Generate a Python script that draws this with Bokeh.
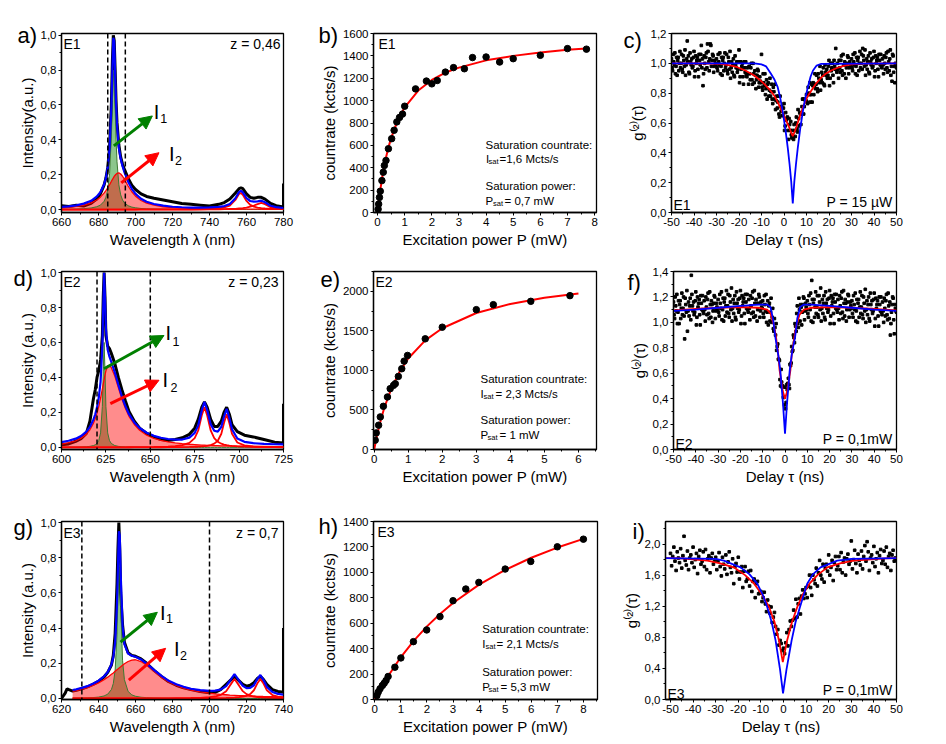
import numpy as np
from bokeh.plotting import figure
from bokeh.layouts import column, row
from bokeh.models import Label, Arrow, NormalHead, Span, FixedTicker, CustomJSTickFormatter, Range1d
from bokeh.embed import file_html
from bokeh.resources import INLINE

nan = float("nan")
FONT = "Liberation Sans"
BLUE = "#0000ff"
RED = "#ff0000"
GREEN = "#008000"

# ---------------- spectra (a, d, g) ----------------
wl_a = [660,664,668,672,676,679,681,683,684,685,686,687,687.5,688,688.5,689,689.5,690,691,692,693,694,696,698,700,
        703,706,710,715,720,725,730,735,740,745,748,751,754,756,757,758,760,762,764,766,768,770,773,776,780]
meas_wl_a = wl_a + [780]
meas_a = [0.022,0.018,0.025,0.020,0.035,0.060,0.090,0.140,0.180,0.240,0.360,0.620,0.850,1.000,0.970,0.800,0.620,0.500,0.370,0.300,
          0.260,0.230,0.180,0.140,0.115,0.090,0.075,0.065,0.055,0.045,0.035,0.030,0.025,0.020,0.030,0.040,0.060,0.095,0.120,0.125,
          0.120,0.090,0.070,0.065,0.070,0.070,0.060,0.035,0.022,0.015,0.15]
fit_a = [0.015,0.018,0.024,0.034,0.050,0.074,0.099,0.144,0.181,0.241,0.353,0.597,0.800,0.985,0.965,0.780,0.606,0.484,0.355,0.291,
         0.249,0.215,0.160,0.119,0.090,0.062,0.045,0.032,0.022,0.016,0.013,0.011,0.011,0.012,0.015,0.020,0.032,0.065,0.101,0.107,
         0.098,0.065,0.049,0.045,0.047,0.051,0.042,0.022,0.014,0.009]
i1_a = [0.002,0.002,0.003,0.005,0.009,0.016,0.025,0.047,0.070,0.113,0.207,0.432,0.620,0.800,0.775,0.580,0.400,0.274,0.142,0.084,
        0.055,0.038,0.022,0.014,0.010,0.006,0.004,0.003,0.002,0.001] + [0]*20
i2_a = [0.010,0.013,0.018,0.026,0.038,0.055,0.071,0.094,0.108,0.125,0.143,0.162,0.172,0.181,0.190,0.197,0.203,0.207,0.210,0.204,
        0.191,0.174,0.135,0.102,0.077,0.052,0.037,0.025,0.016,0.011,0.008,0.0065,0.005,0.004,0.0034,0.003,0.0028,0.0025,0.0024,0.0023,
        0.0023,0.0022,0.002,0.002,0.0019,0.0018,0.0017,0.0016,0.0015,0.0014]
p3_a = [0]*25 + [0.001,0.001,0.001,0.001,0.001,0.001,0.0015,0.002,
                 0.0035,0.007,0.012,0.023,0.055,0.090,0.095,0.085,0.049,0.027,0.017,0.011,0.008,0.006,0.004,0.003,0.002]
p4_a = [0]*33 + [0.001,0.0015,0.002,0.003,0.004,0.006,0.007,0.008,0.011,0.017,0.023,0.031,0.038,0.031,0.013,0.006,0.003]
cuts_a = [685, 694.5]

wl_d = [600,604,608,611,614,616,618,619,620,621,622,623,623.5,624,624.5,625,626,627,628,630,632,634,636,638,641,644,648,652,
        656,660,664,668,672,675,677,679,680.5,682,684,686,688,690,691.5,693,694.5,696,699,703,708,714,720,725]
meas_wl_d = wl_d + [725]
meas_d = [0.015,0.020,0.035,0.050,0.080,0.150,0.280,0.330,0.400,0.440,0.500,0.640,0.860,1.000,0.860,0.640,0.580,0.565,0.540,0.480,
          0.400,0.330,0.265,0.205,0.150,0.110,0.080,0.060,0.045,0.040,0.045,0.055,0.075,0.110,0.160,0.230,0.260,0.230,0.160,0.120,
          0.120,0.150,0.200,0.230,0.190,0.130,0.090,0.070,0.060,0.045,0.030,0.025,0.25]
fit_d = [0.030,0.038,0.050,0.065,0.090,0.117,0.160,0.189,0.229,0.285,0.375,0.579,0.804,0.999,0.857,0.682,0.559,0.519,0.490,0.429,
         0.358,0.291,0.235,0.190,0.143,0.111,0.084,0.066,0.055,0.048,0.045,0.045,0.056,0.083,0.126,0.213,0.260,0.215,0.132,0.095,
         0.090,0.118,0.175,0.221,0.168,0.104,0.051,0.032,0.024,0.020,0.018,0.017]
i1_d = [0.0007,0.001,0.0015,0.0023,0.0038,0.006,0.0105,0.015,0.023,0.040,0.083,0.234,0.432,0.600,0.432,0.234,0.083,0.040,0.023,0.0105,
        0.006,0.0038,0.0027,0.002,0.0013,0.001,0.0008,0.0005,0.0004] + [0]*23
i2_d = [0.019,0.027,0.038,0.053,0.076,0.101,0.139,0.164,0.196,0.235,0.282,0.335,0.362,0.389,0.415,0.438,0.466,0.469,0.457,0.408,
        0.342,0.277,0.222,0.178,0.131,0.098,0.070,0.052,0.040,0.032,0.026,0.021,0.018,0.016,0.0145,0.013,0.0127,0.012,0.0112,0.0105,
        0.0099,0.0093,0.009,0.0087,0.0084,0.008,0.0075,0.0069,0.0062,0.0055,0.0049,0.0045]
p3_d = [0]*23 + [0.001,0.0013,0.0015,0.002,0.0025,0.0034,0.0048,0.0074,0.0125,0.0255,0.053,0.097,0.184,0.230,0.184,0.097,0.053,
                 0.032,0.021,0.016,0.0125,0.010,0.0083,0.0059,0.004,0.0027,0.0018,0.0013,0.001]
p4_d = [0]*29 + [0.0011,0.0014,0.0019,0.0027,0.0036,0.0045,0.0059,0.0073,0.0093,0.0136,0.0215,0.038,0.078,0.140,0.190,0.140,0.078,
                 0.028,0.0112,0.0051,0.0027,0.0016,0.0012]
cuts_d = [620, 650]

wl_g = [620,622,623,624,626,628,631,634,637,640,643,645,647,648,649,650,650.5,651,651.5,652,653,654,656,658,660,663,666,670,674,
        678,682,686,690,695,700,703,706,709,711,713.5,716,718,720,722,724,726,727.5,729,731,734,737,740]
meas_wl_g = wl_g + [740]
meas_g = [0.0,0.030,0.055,0.050,0.042,0.046,0.055,0.066,0.080,0.097,0.122,0.148,0.190,0.245,0.370,0.650,0.850,1.000,0.850,0.600,
          0.420,0.320,0.260,0.245,0.240,0.225,0.200,0.160,0.125,0.095,0.075,0.060,0.050,0.040,0.032,0.035,0.050,0.080,0.100,0.125,
          0.100,0.080,0.070,0.075,0.090,0.115,0.125,0.110,0.080,0.050,0.040,0.035,0.40]
fit_g = [nan]*4 + [0.048,0.052,0.060,0.070,0.084,0.101,0.126,0.150,0.193,0.235,0.319,0.533,0.741,0.951,0.926,0.708,0.411,0.309,
                   0.255,0.243,0.237,0.222,0.198,0.162,0.128,0.100,0.081,0.066,0.055,0.047,0.043,0.044,0.050,0.070,0.100,0.138,
                   0.101,0.072,0.059,0.060,0.075,0.113,0.133,0.109,0.066,0.037,0.026,0.021]
i1_g = [nan]*4 + [0.0015,0.0018,0.0024,0.0033,0.0048,0.0076,0.0141,0.0244,0.051,0.085,0.160,0.365,0.569,0.774,0.745,0.523,0.217,
                  0.107,0.040,0.0204,0.0123,0.0069,0.0044,0.0027,0.0019,0.0014,0.001] + [0]*21
i2_g = [nan]*4 + [0.041,0.045,0.053,0.062,0.074,0.0885,0.107,0.121,0.137,0.145,0.154,0.163,0.167,0.172,0.176,0.180,0.189,0.197,
                  0.210,0.218,0.220,0.210,0.189,0.154,0.121,0.094,0.074,0.059,0.0475,0.037,0.0297,0.026,0.023,0.021,0.019,0.018,
                  0.016,0.0153,0.0144,0.0135,0.0128,0.012,0.0115,0.011,0.0105,0.0097,0.009,0.0085]
p3_g = [nan]*4 + [0]*26 + [0.0014,0.0018,0.0024,0.0038,0.0069,0.011,0.0197,0.0415,0.0728,0.110,0.0728,0.0415,0.0247,0.0159,
                           0.011,0.008,0.0065,0.0053,0.0042,0.0031,0.0024,0.0019]
p4_g = [nan]*4 + [0]*29 + [0.001,0.0013,0.0016,0.0021,0.0028,0.0035,0.0048,0.007,0.010,0.0152,0.0252,0.0466,0.088,0.110,0.088,
                           0.0466,0.0193,0.010,0.006]
cuts_g = [631, 700]

# ---------------- saturation (b, e, h) ----------------
pw_b = [0.02,0.04,0.07,0.1,0.16,0.21,0.25,0.31,0.4,0.52,0.61,0.71,0.81,0.92,1.0,1.4,1.8,2.0,2.2,2.5,2.8,3.2,3.5,4.0,4.5,5.0,6.0,7.0,7.7]
cr_b = [30,75,135,190,285,360,420,465,570,660,735,810,850,880,950,1105,1175,1150,1180,1255,1295,1285,1385,1390,1345,1375,1405,1465,1460]
fitp_b = [0,0.05,0.1,0.15,0.2,0.3,0.4,0.5,0.75,1,1.5,2,2.5,3,4,5,6,7,7.7]
fitc_b = [0,107,200,282,355,480,582,665,830,940,1090,1185,1250,1295,1360,1400,1430,1455,1465]

pw_e = [0.03,0.06,0.13,0.18,0.27,0.39,0.47,0.57,0.62,0.71,0.81,0.88,0.98,1.5,2.0,3.0,3.5,4.6,5.75]
cr_e = [118,210,307,412,546,664,769,811,832,924,1021,1117,1189,1399,1546,1768,1831,1873,1945]
fitp_e = [0,0.05,0.1,0.2,0.3,0.5,0.75,1,1.5,2,3,4,5,6]
fitc_e = [0,110,210,383,531,767,986,1150,1380,1533,1725,1840,1917,1971]

pw_h = [0.08,0.13,0.2,0.29,0.36,0.43,0.51,0.77,1.0,1.48,1.99,2.5,3.0,3.49,3.99,5.0,5.98,7.0,8.0]
cr_h = [31,58,84,110,128,149,181,254,327,455,547,652,777,869,921,1026,1086,1201,1261]
fitp_h = [0,0.5,1,1.5,2,2.5,3,4,5,6,7,8]
fitc_h = [0,181,334,463,575,673,759,903,1019,1115,1195,1263]

# ---------------- g2 correlation (c, f, i) ----------------
g2c_a = [1.03,0.95,1.01,1.07,0.98,0.92,1.04,1.00,0.97,1.06, 0.94,1.02,1.09,0.99,1.15,1.05,0.93,1.01,1.03,0.98,
         1.08,0.95,1.00,1.04,0.91,1.02,1.06,0.97,0.85,1.05, 0.96,1.07,1.13,1.01,1.03,1.12,1.02,1.05,0.98,1.00,
         1.03,0.95,1.01,1.07,0.98,0.92,1.04,1.00,0.97,1.06, 0.93,1.01,1.08,0.97,0.94,1.03,0.91,0.99,1.01,0.96,
         1.09,0.91,0.96,1.00,0.86,0.97,1.01,0.91,0.93,0.98, 0.89,1.00,0.86,0.93,0.95,0.83,0.92,0.95,0.87,0.88,
         1.06,0.82,0.87,0.93,0.83,0.76,0.87,0.82,0.78,0.86, 0.73,0.81,0.86,0.75,0.70,0.78,0.64,0.71,0.71,0.65,
         0.73,0.58,0.62,0.64,0.49,0.59,0.61,0.50,0.51,0.59, 0.51,0.64,0.54,0.63,0.67,0.59,0.71,0.76,0.71,0.75,
         0.79,0.73,0.80,0.87,0.79,0.74,0.87,0.85,0.83,0.92, 0.81,0.90,0.98,0.89,0.87,0.97,0.85,0.94,0.96,0.92,
         1.02,0.90,0.95,1.00,0.87,0.98,1.10,0.94,0.96,1.02, 0.94,1.05,0.92,0.99,1.01,0.90,1.00,1.04,0.97,0.99,
         1.03,0.95,1.01,1.07,0.98,0.92,1.04,1.00,0.97,1.06, 1.10,1.02,1.09,0.99,0.96,1.05,0.93,1.01,1.03,0.98,
         1.08,0.95,1.00,1.04,0.91,1.02,1.06,0.97,0.99,1.05, 0.96,1.07,0.94,1.01,1.03,0.92,0.88,1.05,0.98,1.00, 0.97]
g2c_b = [0.97,1.06,0.99,0.93,1.04,1.02,0.95,1.08,1.00,0.96, 1.05,0.98,0.92,1.03,1.01,0.94,1.07,0.99,0.97,1.04,
         0.91,1.05,1.02,0.96,1.06,0.99,1.12,1.03,0.93,1.00, 1.04,0.97,1.08,0.95,1.13,0.98,1.06,0.94,1.02,0.99,
         0.97,1.06,0.99,0.93,1.04,1.02,0.95,1.07,0.99,0.95, 1.04,0.96,0.90,1.01,0.99,0.92,1.05,0.97,0.94,1.01,
         0.87,1.01,0.98,0.91,1.01,0.94,0.92,0.97,0.86,0.93, 0.97,0.89,1.00,0.87,0.92,0.89,0.96,0.84,0.91,0.87,
         0.84,0.93,0.85,0.79,0.89,0.86,0.78,0.90,0.81,0.76, 0.84,0.76,0.69,0.78,0.74,0.66,0.78,0.68,0.65,0.70,
         0.55,0.67,0.63,0.55,0.63,0.55,0.52,0.55,0.49,0.55, 0.60,0.56,0.69,0.58,0.66,0.66,0.76,0.66,0.76,0.75,
         0.74,0.84,0.79,0.74,0.86,0.85,0.79,0.93,0.86,0.83, 0.93,0.87,0.82,0.94,0.92,0.86,0.99,0.92,0.90,0.98,
         0.85,1.00,0.97,0.92,1.02,0.96,0.96,1.00,0.90,0.97, 1.02,0.95,1.06,0.93,0.99,0.97,1.05,0.93,1.01,0.98,
         0.97,1.06,0.99,0.93,1.04,1.02,0.95,1.08,1.00,0.96, 1.05,0.98,0.92,1.03,1.01,0.94,1.07,0.99,0.97,1.04,
         0.91,1.05,1.02,0.96,1.06,0.99,0.98,1.03,0.93,1.00, 1.04,0.97,1.08,0.95,1.09,0.98,1.06,0.94,0.87,0.99]
redt_c = [-50,-35,-28,-24,-20.7,-17,-13.2,-11,-8.8,-6.5,-4.3,-2.5,-0.6,1,2.4,3.2,3.9,4.6,5.4,6.5,7.6,8.8,9.9,11,12.1,14,16.6,18.5,21,24,27,30,35,50]
redg_c = [1.0,0.999,0.997,0.987,0.974,0.95,0.918,0.892,0.862,0.826,0.783,0.73,0.67,0.615,0.568,0.535,0.512,0.535,0.568,0.62,
          0.67,0.72,0.76,0.79,0.816,0.86,0.906,0.93,0.952,0.972,0.985,0.993,0.998,1.0]
bluet_c = [-50,-13.2,-10,-8,-5.8,-4.2,-2.8,-1.7,-0.6,0.6,1.7,2.5,3.2,3.9,4.6,5.3,6.1,7.2,8.4,9.5,10.6,11.8,12.9,14.5,16.6,50]
blueg_c = [1.0,1.0,0.993,0.98,0.93,0.89,0.84,0.77,0.68,0.56,0.43,0.32,0.21,0.06,0.21,0.32,0.43,0.56,0.68,0.77,0.84,0.91,0.952,0.985,0.997,1.0]

g2f_a = [1.16,1.03,1.13,1.22,1.08,0.99,1.17,1.11,1.06,1.20, 0.87,1.14,1.25,1.09,1.05,1.19,1.37,1.13,1.16,1.08,
         1.24,1.04,1.12,1.18,0.98,1.15,1.21,1.07,1.10,1.20, 1.06,1.23,1.03,1.14,1.17,1.00,1.15,1.20,1.09,1.12,
         1.18,1.05,1.15,1.24,1.10,1.01,1.19,1.13,1.08,1.22, 1.04,1.16,1.27,1.11,1.07,1.21,1.02,1.15,1.18,1.10,
         1.25,1.05,1.13,1.19,0.99,1.16,1.22,1.08,1.11,1.21, 1.07,1.24,1.04,1.15,1.18,1.01,1.15,1.20,1.09,1.12,
         1.17,1.04,1.14,1.22,1.08,0.98,1.15,1.08,1.00,1.11, 0.93,0.96,0.99,0.81,0.71,0.70,0.50,0.53,0.50,0.41,
         0.49,0.37,0.47,0.56,0.48,0.66,0.81,0.78,0.88,0.99, 0.93,1.13,0.96,1.10,1.14,0.98,1.14,1.19,1.09,1.12,
         1.17,1.04,1.14,1.23,1.33,1.00,1.18,1.12,1.07,1.21, 1.04,1.16,1.27,1.11,1.07,1.21,1.02,1.15,1.18,1.10,
         1.25,1.05,1.13,1.19,0.99,1.16,1.22,1.08,1.11,1.21, 1.07,1.24,1.03,1.15,1.18,1.01,1.16,1.21,1.10,1.13,
         1.17,1.04,1.14,1.23,1.09,1.00,1.18,1.12,1.07,1.21, 1.03,1.15,1.26,1.10,1.06,1.20,1.01,1.14,1.17,1.09,
         1.23,1.03,1.11,1.17,0.97,1.14,1.20,1.06,1.09,1.19, 1.05,1.22,1.02,1.13,1.16,0.99,1.14,1.19,0.91,1.11, 1.08]
g2f_b = [1.06,1.20,1.09,0.99,1.17,1.14,1.03,1.23,1.11,1.05, 1.19,1.08,0.93,1.16,1.13,1.02,1.22,1.09,1.06,1.17,
         0.98,1.20,1.15,1.06,1.21,1.10,1.09,1.17,1.01,1.12, 1.18,1.07,1.24,1.04,1.14,1.09,1.21,1.03,1.15,1.10,
         1.08,1.22,1.11,1.02,1.19,1.16,1.05,1.25,1.13,1.07, 1.21,1.10,1.01,1.18,1.15,1.04,1.24,1.11,1.08,1.19,
         0.99,1.21,1.16,1.07,1.22,1.11,1.10,1.18,1.02,1.13, 1.19,1.08,1.25,1.05,1.15,1.10,1.22,1.04,1.16,1.11,
         1.07,1.21,1.09,1.00,1.17,1.13,1.01,1.19,1.04,0.95, 1.03,0.90,0.78,0.83,0.71,0.55,0.63,0.49,0.41,0.35,
         0.32,0.51,0.52,0.51,0.67,0.68,0.77,0.90,0.84,0.97, 1.07,0.99,1.19,1.01,1.12,1.08,1.20,1.02,1.15,1.10,
         1.07,1.21,1.10,1.01,1.18,1.15,1.04,1.24,1.12,1.06, 1.21,1.10,1.01,1.18,1.15,1.04,1.24,1.11,1.08,1.19,
         0.99,1.21,1.16,1.07,1.22,1.11,1.10,1.18,1.02,1.13, 1.19,1.08,1.25,1.05,1.15,1.10,1.22,1.04,1.16,1.11,
         1.07,1.21,1.10,1.01,1.18,1.15,1.04,1.24,1.12,1.06, 1.20,1.09,1.00,1.17,1.14,1.03,1.23,1.10,1.07,1.18,
         0.97,1.19,1.14,1.05,1.20,1.09,1.08,1.16,1.00,1.11, 1.17,1.06,1.23,1.03,0.90,1.08,1.20,1.02,1.14,1.09]
redt_f = [-50,-40,-30,-20,-12,-8,-6.5,-5,-4,-3,-2.4,-1,0,1,2.4,3,4,5,6.5,8.5,12,20,30,40,50]
redg_f = [1.095,1.105,1.115,1.12,1.115,1.10,1.07,0.98,0.88,0.74,0.62,0.46,0.40,0.46,0.62,0.74,0.86,0.97,1.06,1.10,1.115,1.12,1.115,1.105,1.095]
bluet_f = [-50,-40,-30,-20,-12,-8,-6.5,-5.3,-4.3,-3,-2.1,-0.9,0,0.9,2.1,3.2,4.5,5.5,6.8,8.5,12,20,30,40,50]
blueg_f = [1.09,1.10,1.115,1.13,1.14,1.14,1.12,1.02,0.88,0.74,0.62,0.36,0.125,0.36,0.62,0.77,0.88,1.03,1.12,1.14,1.14,1.13,1.115,1.10,1.09]

g2i = [1.88,1.72,1.84,1.96,1.78,1.66,1.90,1.82,1.76,1.94, 1.69,1.85,2.10,1.79,1.73,1.91,1.67,1.82,1.86,1.76,
       1.96,1.70,1.80,1.88,1.62,1.84,1.92,1.74,1.78,1.90, 1.71,1.93,1.67,1.81,1.85,1.63,1.82,1.88,1.74,1.78,
       1.83,1.67,1.78,1.89,1.71,1.59,1.83,1.74,1.68,1.86, 1.61,1.77,1.90,1.70,1.63,1.81,1.49,1.71,1.75,1.64,
       1.83,1.55,1.64,1.71,1.44,1.65,1.71,1.52,1.55,1.65, 1.46,1.66,1.39,1.52,1.55,1.31,1.49,1.52,1.36,1.37,
       1.39,1.26,1.31,1.38,1.23,1.13,1.28,1.20,1.11,1.19, 0.99,1.06,1.12,0.94,0.84,0.90,0.70,0.76,0.72,0.63,
       0.66,0.59,0.73,0.86,0.69,0.90,1.01,0.94,1.02,1.15, 1.04,1.29,1.06,1.23,1.30,1.10,1.33,1.41,1.30,1.36,
       1.44,1.31,1.46,1.60,1.44,1.34,1.60,1.54,1.49,1.69, 1.46,1.63,1.79,1.60,1.55,1.74,1.51,1.69,1.74,1.65,
       1.86,1.60,1.70,1.79,1.53,1.76,1.84,1.67,1.72,1.84, 1.67,1.89,1.63,1.77,1.82,1.60,1.81,1.87,1.74,1.78,
       2.04,1.68,1.80,1.92,1.75,1.63,1.87,1.79,1.73,1.91, 1.68,1.84,1.98,1.78,2.03,1.90,1.66,1.82,1.86,1.76,
       1.97,1.71,1.81,1.89,1.63,1.85,1.93,1.75,1.79,1.91, 1.74,1.96,1.70,1.84,1.88,1.66,1.86,1.92,1.78,1.82, 1.80]
redt_i = [-52.2,-45,-33.7,-28,-22,-17,-13,-9.5,-6.4,-4,-2,-0.3,1.6,3.8,6.1,8.5,11.5,15,19.4,25,31,45,50]
redg_i = [1.82,1.815,1.786,1.75,1.70,1.60,1.49,1.35,1.19,1.0,0.76,0.48,0.76,1.0,1.19,1.35,1.49,1.60,1.70,1.75,1.786,1.815,1.82]
bluet_i = [-52.2,-30,-26.4,-19,-15,-11.6,-9.2,-7.2,-5.2,-3.5,-1.5,-0.2,1.3,3.6,5.3,7.3,9,10.5,13,16.4,23.8,30,50]
blueg_i = [1.82,1.81,1.786,1.70,1.61,1.49,1.35,1.19,0.99,0.76,0.38,0.08,0.38,0.76,0.99,1.19,1.35,1.49,1.61,1.70,1.786,1.81,1.82]

# time bins of the correlation histograms (ns)
tau_a = np.arange(201) * 0.5 - 50.0
tau_b = np.arange(200) * 0.5 - 49.75

# ---------------- helpers ----------------
COMMA = "return tick.toFixed(1).replace('.', ',');"
INT = "return tick.toFixed(0);"
LIFT = 4  # px; compensates the svg text baseline


def make(xr, yr, fw, fh, bl, br, bt, bb, xt, xm, yt, ym, xl, yl, letter, ldx, ldy, comma=True):
    p = figure(x_range=Range1d(*xr), y_range=Range1d(*yr), frame_width=fw, frame_height=fh,
               min_border_left=bl, min_border_right=br, min_border_top=bt, min_border_bottom=bb,
               output_backend="svg", toolbar_location=None)
    p.xgrid.visible = False
    p.ygrid.visible = False
    p.outline_line_color = "black"
    p.outline_line_width = 1.3
    p.outline_line_alpha = 1.0
    p.xaxis.ticker = FixedTicker(ticks=xt, minor_ticks=xm)
    p.yaxis.ticker = FixedTicker(ticks=yt, minor_ticks=ym)
    for ax in (p.xaxis[0], p.yaxis[0]):
        ax.axis_line_width = 1.3
        ax.major_tick_in = 0
        ax.major_tick_out = 3
        ax.minor_tick_in = 0
        ax.minor_tick_out = 2
        ax.major_label_text_font = FONT
        ax.major_label_text_font_size = "11.5px"
        ax.major_label_text_color = "black"
        ax.axis_label_text_font = FONT
        ax.axis_label_text_font_size = "15px"
        ax.axis_label_text_font_style = "normal"
        ax.axis_label_text_color = "black"
        ax.major_label_standoff = 2
        ax.axis_label_standoff = 2
    p.xaxis.axis_label = xl
    p.yaxis.axis_label = yl
    p.xaxis.formatter = CustomJSTickFormatter(code=INT)
    if comma:
        p.yaxis.formatter = CustomJSTickFormatter(code=COMMA)
    # panel letter, set as the (left-aligned) title, pulled down next to the y axis
    p.title.text = letter
    p.title.align = "left"
    p.title.vertical_align = "bottom"
    p.title.offset = ldx
    p.title.standoff = -2 * (ldy + 10.3)
    p.title.text_font = FONT
    p.title.text_font_size = "22px"
    p.title.text_font_style = "normal"
    p.title.text_color = "black"
    return p


def txt(p, x, y, text, size="14px", align="left", baseline="alphabetic", units="screen", xo=0, yo=0):
    p.add_layout(Label(x=x, y=y, x_units=units, y_units=units, text=text, text_font=FONT,
                       text_font_size=size, text_align=align, text_baseline=baseline,
                       x_offset=xo, y_offset=yo + LIFT, text_color="black"))


def spectrum(p, wl, mwl, meas, fit, i1, i2, peaks, cuts):
    wl = np.array(wl, dtype=float)
    i1 = np.array(i1, dtype=float)
    i2 = np.array(i2, dtype=float)
    ok = np.isfinite(i2)
    p.line(mwl, meas, color="black", line_width=3)
    p.varea(x=wl[ok], y1=0, y2=i1[ok], fill_color=GREEN, fill_alpha=0.45)
    p.varea(x=wl[ok], y1=0, y2=i2[ok], fill_color=RED, fill_alpha=0.45)
    p.line(wl, i1, color="#3c7a30", line_width=1)
    p.line(wl, i2, color=RED, line_width=1.3)
    for pk in peaks:
        p.line(wl, pk, color=RED, line_width=1.8)
    p.line(wl, fit, color=BLUE, line_width=2.2)
    for c in cuts:
        p.add_layout(Span(location=c, dimension="height", line_color="black", line_dash="5 3", line_width=1.5))


def arrow(p, x0, y0, x1, y1, color):
    p.add_layout(Arrow(end=NormalHead(size=13, fill_color=color, line_color=color),
                       x_start=x0, y_start=y0, x_end=x1, y_end=y1, line_color=color, line_width=3))


def sub_label(p, x, y, main, sub, dx, dy):
    txt(p, x, y, main, size="20px", units="data")
    txt(p, x, y, sub, size="12.5px", units="data", xo=dx, yo=dy)


def g2(p, ya, yb, rt, rg, bt_, bg):
    p.scatter(tau_a, ya, marker="square", size=2.6, color="black")
    if yb is not None:
        p.scatter(tau_b, yb, marker="square", size=2.6, color="black")
    p.line(rt, rg, color=RED, line_width=1.8)
    p.line(bt_, bg, color=BLUE, line_width=1.8)


def sat(p, px, py, fx, fy):
    p.line(fx, fy, color=RED, line_width=2)
    p.scatter(px, py, marker="circle", size=6.5, color="black")


WL = "Wavelength \u03bb (nm)"
EX = "Excitation power P (mW)"
DL = "Delay \u03c4 (ns)"
CR = "countrate (kcts/s)"
G2 = "g\u207d\u00b2\u207e(\u03c4)"

# ---------------- row 1 ----------------
pa = make((660, 780), (-0.017, 1.01), 222, 179, 61, 17, 33, 40,
          list(range(660, 781, 20)), list(range(670, 780, 20)),
          [0, 0.2, 0.4, 0.6, 0.8, 1.0], [0.1, 0.3, 0.5, 0.7, 0.9], WL, "Intensity(a.u.)", "a)", -44, 4)
spectrum(pa, wl_a, meas_wl_a, meas_a, fit_a, i1_a, i2_a, [p3_a, p4_a], cuts_a)
arrow(pa, 688.3, 0.365, 709.1, 0.537, GREEN)
arrow(pa, 692.3, 0.153, 712.7, 0.326, RED)
sub_label(pa, 709.8, 0.537, "I", "1", 6.5, -7)
sub_label(pa, 718.1, 0.297, "I", "2", 6, -7)
txt(pa, 2, 165, "E1")
txt(pa, 219, 165, "z = 0,46", align="right")

pb = make((-0.15, 8.07), (0, 1600), 223, 179, 73, 14, 33, 40,
          list(range(0, 9)), [0.5 + k for k in range(8)],
          list(range(0, 1601, 200)), list(range(100, 1600, 200)), EX, CR, "b)", -55, 4, comma=False)
sat(pb, pw_b, cr_b, fitp_b, fitc_b)
txt(pb, 5, 165, "E1")
txt(pb, 112, 64, "Saturation countrate:", size="11.5px")
txt(pb, 112.5, 50, "I", size="11.5px")
txt(pb, 115, 47, "sat", size="7.5px")
txt(pb, 126, 50, "=1,6 Mcts/s", size="11.5px")
txt(pb, 112, 23, "Saturation power:", size="11.5px")
txt(pb, 112, 8, "P", size="11.5px")
txt(pb, 119.5, 5, "sat", size="7.5px")
txt(pb, 131, 8, "= 0,7 mW", size="11.5px")

pc = make((-50, 50), (0, 1.2), 225, 179, 61, 50, 33, 40,
          list(range(-50, 51, 10)), list(range(-45, 50, 10)),
          [0, 0.2, 0.4, 0.6, 0.8, 1.0, 1.2], [0.1, 0.3, 0.5, 0.7, 0.9, 1.1], DL, G2, "c)", -48, 9)
g2(pc, g2c_a, g2c_b, redt_c, redg_c, bluet_c, blueg_c)
txt(pc, 2, 4, "E1")
txt(pc, 221, 7, "P = 15 \u00b5W", align="right")

# ---------------- row 2 ----------------
pd = make((600, 725), (-0.012, 1.006), 222, 178, 61, 17, 19, 43,
          list(range(600, 726, 25)), [612.5 + 25 * k for k in range(5)],
          [0, 0.2, 0.4, 0.6, 0.8, 1.0], [0.1, 0.3, 0.5, 0.7, 0.9], WL, "Intensity (a.u.)", "d)", -48, 9)
spectrum(pd, wl_d, meas_wl_d, meas_d, fit_d, i1_d, i2_d, [p3_d, p4_d], cuts_d)
arrow(pd, 623.9, 0.45, 657.7, 0.64, GREEN)
arrow(pd, 627.5, 0.25, 654.9, 0.384, RED)
sub_label(pd, 658.6, 0.631, "I", "1", 7, -8)
sub_label(pd, 656.8, 0.365, "I", "2", 8, -8)
txt(pd, 2, 164, "E2")
txt(pd, 217, 164, "z = 0,23", align="right")

pe = make((-0.02, 6.53), (0, 2250), 223, 178, 73, 14, 19, 43,
          list(range(0, 7)), [0.5 + k for k in range(7)],
          [0, 500, 1000, 1500, 2000], [250, 750, 1250, 1750, 2250], EX, CR, "e)", -53, 10, comma=False)
sat(pe, pw_e, cr_e, fitp_e, fitc_e)
txt(pe, 2, 164, "E2")
txt(pe, 107, 67, "Saturation countrate:", size="11.5px")
txt(pe, 107, 52, "I", size="11.5px")
txt(pe, 110, 49, "sat", size="7.5px")
txt(pe, 122, 52, "= 2,3 Mcts/s", size="11.5px")
txt(pe, 107, 26, "Saturation power:", size="11.5px")
txt(pe, 107, 11, "P", size="11.5px")
txt(pe, 114, 8, "sat", size="7.5px")
txt(pe, 126, 11, "= 1 mW", size="11.5px")

pf = make((-50, 50), (0, 1.4), 223, 178, 63, 50, 19, 43,
          list(range(-50, 51, 10)), list(range(-45, 50, 10)),
          [0, 0.2, 0.4, 0.6, 0.8, 1.0, 1.2, 1.4], [0.1, 0.3, 0.5, 0.7, 0.9, 1.1, 1.3], DL, G2, "f)", -46, 13)
g2(pf, g2f_a, g2f_b, redt_f, redg_f, bluet_f, blueg_f)
txt(pf, 2, 2, "E2")
txt(pf, 219, 7, "P = 0,1mW", align="right")

# ---------------- row 3 ----------------
pg = make((620, 740), (-0.006, 1.006), 222, 178, 61, 17, 29, 45,
          list(range(620, 741, 20)), list(range(630, 740, 20)),
          [0, 0.2, 0.4, 0.6, 0.8, 1.0], [0.1, 0.3, 0.5, 0.7, 0.9], WL, "Intensity (a.u.)", "g)", -48, 8)
spectrum(pg, wl_g, meas_wl_g, meas_g, fit_g, i1_g, i2_g, [p3_g, p4_g], cuts_g)
arrow(pg, 651.9, 0.32, 671.8, 0.49, GREEN)
arrow(pg, 656.4, 0.104, 676.3, 0.285, RED)
sub_label(pg, 673.2, 0.464, "I", "1", 6, -6)
sub_label(pg, 680.8, 0.256, "I", "2", 6, -6)
txt(pg, 2, 163, "E3")
txt(pg, 217, 163, "z = 0,7", align="right")

ph = make((-0.05, 8.54), (0, 1400), 224, 178, 73, 13, 29, 45,
          list(range(0, 9)), [0.5 + k for k in range(9)],
          list(range(0, 1401, 200)), list(range(100, 1400, 200)), EX, CR, "h)", -55, 7, comma=False)
sat(ph, pw_h, cr_h, fitp_h, fitc_h)
txt(ph, 4, 164, "E3")
txt(ph, 108.7, 67, "Saturation countrate:", size="11.5px")
txt(ph, 108.7, 52, "I", size="11.5px")
txt(ph, 112, 49, "sat", size="7.5px")
txt(ph, 123, 52, "= 2,1 Mcts/s", size="11.5px")
txt(ph, 108.7, 24, "Saturation power:", size="11.5px")
txt(ph, 108.7, 9, "P", size="11.5px")
txt(ph, 115, 6, "sat", size="7.5px")
txt(ph, 127, 9, "= 5,3 mW", size="11.5px")

pi = make((-52.2, 50), (0, 2.29), 231, 178, 55, 50, 29, 45,
          list(range(-50, 51, 10)), list(range(-45, 50, 10)),
          [0, 0.4, 0.8, 1.2, 1.6, 2.0], [0.2, 0.6, 1.0, 1.4, 1.8, 2.2], DL, G2, "i)", -33, 12)
g2(pi, g2i, None, redt_i, redg_i, bluet_i, blueg_i)
txt(pi, 2, 2, "E3")
txt(pi, 227, 6, "P = 0,1mW", align="right")

layout = column(row(pa, pb, pc), row(pd, pe, pf), row(pg, ph, pi))
open("out.html", "w").write(file_html(layout, INLINE, title="chart"))
